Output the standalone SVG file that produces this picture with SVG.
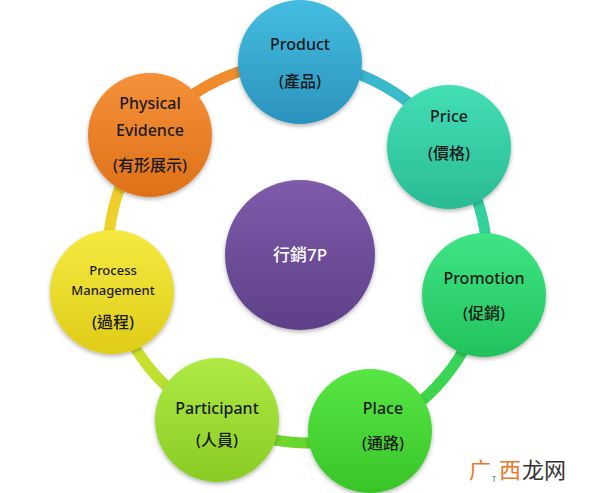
<svg xmlns="http://www.w3.org/2000/svg" width="600" height="493" viewBox="0 0 600 493">
<defs>
<filter id="sh" x="-20%" y="-20%" width="140%" height="140%"><feDropShadow dx="0" dy="2" stdDeviation="2" flood-color="#000" flood-opacity="0.3"/></filter>
<linearGradient id="gProd" x1="0" y1="0" x2="0" y2="1"><stop offset="0" stop-color="#44bde0"/><stop offset="1" stop-color="#2b93be"/></linearGradient>
<linearGradient id="gPrice" x1="0" y1="0" x2="0" y2="1"><stop offset="0" stop-color="#43dfb6"/><stop offset="1" stop-color="#2abb95"/></linearGradient>
<linearGradient id="gPromo" x1="0" y1="0" x2="0" y2="1"><stop offset="0" stop-color="#3ee585"/><stop offset="1" stop-color="#22c25b"/></linearGradient>
<linearGradient id="gPlace" x1="0" y1="0" x2="0" y2="1"><stop offset="0" stop-color="#58e645"/><stop offset="1" stop-color="#38c527"/></linearGradient>
<linearGradient id="gPart" x1="0" y1="0" x2="0" y2="1"><stop offset="0" stop-color="#afea44"/><stop offset="1" stop-color="#88cc24"/></linearGradient>
<linearGradient id="gProc" x1="0" y1="0" x2="0" y2="1"><stop offset="0" stop-color="#f6ea40"/><stop offset="1" stop-color="#dfcc18"/></linearGradient>
<linearGradient id="gPhys" x1="0" y1="0" x2="0" y2="1"><stop offset="0" stop-color="#f5913a"/><stop offset="1" stop-color="#de7118"/></linearGradient>
<linearGradient id="gCore" x1="0" y1="0" x2="0" y2="1"><stop offset="0" stop-color="#7e5bab"/><stop offset="1" stop-color="#5e4088"/></linearGradient>
<linearGradient id="r1" gradientUnits="userSpaceOnUse" x1="300" y1="62" x2="449" y2="147"><stop offset="0" stop-color="#36a9d6"/><stop offset="1" stop-color="#3cc9c0"/></linearGradient>
<linearGradient id="r2" gradientUnits="userSpaceOnUse" x1="449" y1="147" x2="484" y2="295"><stop offset="0" stop-color="#36cfac"/><stop offset="1" stop-color="#2fd58a"/></linearGradient>
<linearGradient id="r3" gradientUnits="userSpaceOnUse" x1="484" y1="295" x2="370" y2="432"><stop offset="0" stop-color="#2fd470"/><stop offset="1" stop-color="#45d634"/></linearGradient>
<linearGradient id="r4" gradientUnits="userSpaceOnUse" x1="370" y1="432" x2="217" y2="420"><stop offset="0" stop-color="#48d630"/><stop offset="1" stop-color="#8fd62a"/></linearGradient>
<linearGradient id="r5" gradientUnits="userSpaceOnUse" x1="217" y1="420" x2="112" y2="292"><stop offset="0" stop-color="#a3e033"/><stop offset="1" stop-color="#e5e02a"/></linearGradient>
<linearGradient id="r6" gradientUnits="userSpaceOnUse" x1="112" y1="292" x2="150" y2="135"><stop offset="0" stop-color="#ecdf2a"/><stop offset="1" stop-color="#f0c02a"/></linearGradient>
<linearGradient id="r7" gradientUnits="userSpaceOnUse" x1="150" y1="135" x2="300" y2="62"><stop offset="0" stop-color="#ef8a2a"/><stop offset="0.6" stop-color="#f08c2c"/><stop offset="1" stop-color="#3aa8d4"/></linearGradient>
</defs>
<style>
.ring{fill:none;stroke-width:11;}
.node{filter:url(#sh);}
.t{font-family:"Noto Sans","Noto Sans CJK TC",sans-serif;font-size:16px;fill:#1a1a1a;text-anchor:middle;font-weight:500;}
.s{font-size:13px;}
.c{fill:#ffffff;font-size:17px;}
</style>
<rect width="600" height="493" fill="#ffffff"/>
<g id="connectors">
<path class="ring" stroke="url(#r1)" d="M300,62 A188,188 0 0 1 449,147"/>
<path class="ring" stroke="url(#r2)" d="M449,147 A188,188 0 0 1 484,295"/>
<path class="ring" stroke="url(#r3)" d="M484,295 A188,188 0 0 1 370,432"/>
<path class="ring" stroke="url(#r4)" d="M370,432 A188,188 0 0 1 217,420"/>
<path class="ring" stroke="url(#r5)" d="M217,420 A188,188 0 0 1 112,292"/>
<path class="ring" stroke="url(#r6)" d="M112,292 A188,188 0 0 1 150,135"/>
<path class="ring" stroke="url(#r7)" d="M150,135 A188,188 0 0 1 300,62"/>
</g>
<g id="core"><circle class="node" cx="300" cy="255" r="75" fill="url(#gCore)"/><text class="t c" x="300" y="261">行銷7P</text></g>
<g id="product"><circle class="node" cx="300" cy="62" r="62" fill="url(#gProd)"/><text class="t" x="300" y="50">Product</text><text class="t" x="300" y="87">(產品)</text></g>
<g id="price"><circle class="node" cx="449" cy="147" r="62" fill="url(#gPrice)"/><text class="t" x="449" y="122">Price</text><text class="t" x="449" y="159">(價格)</text></g>
<g id="promotion"><circle class="node" cx="484" cy="295" r="62" fill="url(#gPromo)"/><text class="t" x="484" y="284">Promotion</text><text class="t" x="484" y="319">(促銷)</text></g>
<g id="place"><circle class="node" cx="370" cy="431" r="62" fill="url(#gPlace)"/><text class="t" x="383" y="414">Place</text><text class="t" x="383" y="449">(通路)</text></g>
<g id="participant"><circle class="node" cx="217" cy="420" r="62" fill="url(#gPart)"/><text class="t" x="217" y="414">Participant</text><text class="t" x="217" y="446">(人員)</text></g>
<g id="process"><circle class="node" cx="112" cy="292" r="62" fill="url(#gProc)"/><text class="t s" x="113" y="275">Process</text><text class="t s" x="113" y="295">Management</text><text class="t" x="113" y="328">(過程)</text></g>
<g id="physical"><circle class="node" cx="150" cy="135" r="62" fill="url(#gPhys)"/><text class="t" x="150" y="109">Physical</text><text class="t" x="150" y="136">Evidence</text><text class="t" x="150" y="171">(有形展示)</text></g>
<g id="watermark" font-family="'Noto Sans CJK SC',sans-serif" font-size="22">
<text x="469" y="478" fill="#e8782a">广</text>
<text x="492" y="482" font-size="7" fill="#555">T</text>
<text x="499" y="478" fill="#e8782a">西</text>
<text x="522" y="478" fill="#333">龙网</text>
</g>
</svg>
